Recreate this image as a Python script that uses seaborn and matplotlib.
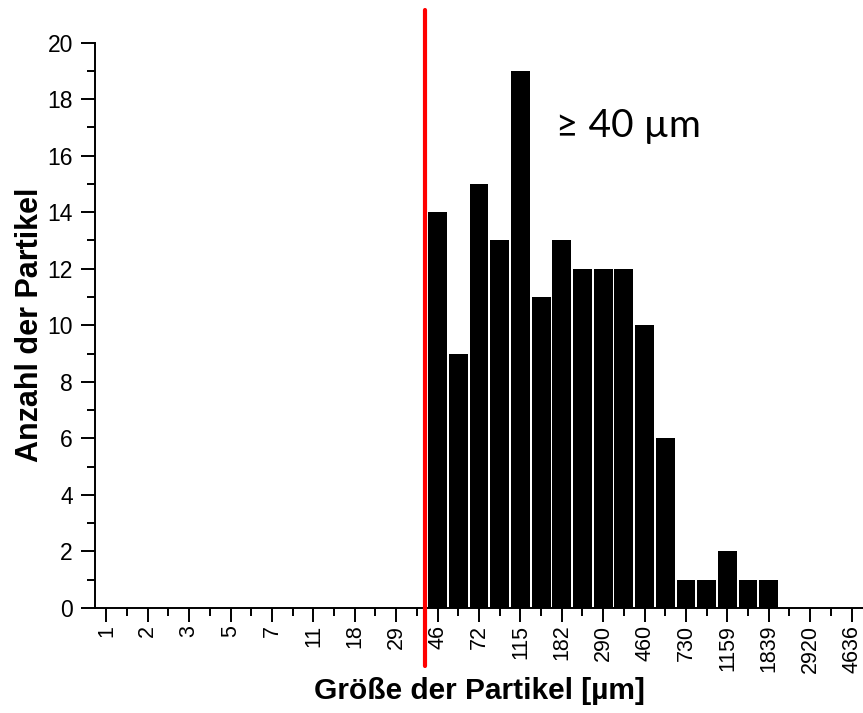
import numpy as np
import pandas as pd
import matplotlib
matplotlib.use("Agg")
import matplotlib.pyplot as plt
import seaborn as sns

# Particle size classes (labelled every second class) and counts per class
size_labels = ["1", "2", "3", "5", "7", "11", "18", "29", "46", "72", "115",
               "182", "290", "460", "730", "1159", "1839", "2920", "4636"]
counts = [0, 0, 0, 0, 0, 0, 0, 0, 0, 0, 0, 0, 0, 0, 0, 0,
          14, 9, 15, 13, 19, 11, 13, 12, 12, 12, 10, 6, 1, 1, 2, 1, 1,
          0, 0, 0, 0]
threshold_um = 40

sns.set_theme(style="ticks")
plt.rcParams["font.family"] = ["Liberation Sans", "DejaVu Sans"]

n_classes = len(counts)
df = pd.DataFrame({"klasse": np.arange(n_classes), "anzahl": counts})

fig = plt.figure(figsize=(8.63, 7.13), dpi=100)
ax = fig.add_axes([95 / 863, 1 - 608 / 713, 769 / 863, 565.5 / 713])

sns.barplot(data=df, x="klasse", y="anzahl", order=list(range(n_classes)),
            color="black", saturation=1, width=0.91, linewidth=0,
            native_scale=False, ax=ax)

ax.set_xlim(-0.55, n_classes - 1 + 0.6)
ax.set_ylim(0, 20)

major_pos = np.arange(0, n_classes, 2)
ax.set_xticks(major_pos)
ax.set_xticklabels(size_labels, rotation=90, fontsize=15.5)
ax.set_xticks(np.arange(1, n_classes, 2), minor=True)
ax.set_yticks(np.arange(0, 21, 2))
ax.set_yticklabels([str(v) for v in range(0, 21, 2)], fontsize=16.5)
ax.set_yticks(np.arange(1, 20, 2), minor=True)

ax.tick_params(axis="both", which="major", length=10, width=1.4, color="black",
               direction="out", labelcolor="black")
ax.tick_params(axis="y", which="major", pad=6)
ax.tick_params(axis="x", which="major", pad=2)
ax.tick_params(axis="both", which="minor", length=6, width=1.4, color="black",
               direction="out")
for side in ("top", "right"):
    ax.spines[side].set_visible(False)
for side in ("left", "bottom"):
    ax.spines[side].set_linewidth(1.4)
    ax.spines[side].set_color("black")

ax.set_xlabel("Größe der Partikel [µm]", fontsize=21.5, fontweight="bold",
              labelpad=3, color="black")
ax.set_ylabel("Anzahl der Partikel", fontsize=22, fontweight="bold",
              labelpad=2, color="black")

# Cut-off at 40 µm, placed on the logarithmic class axis
thr_pos = np.interp(np.log(threshold_um),
                    np.log([float(v) for v in size_labels]), major_pos)
ax.axvline(thr_pos, ymin=-0.103, ymax=1.058, color="#ff0000", linewidth=3,
           clip_on=False, zorder=5)
ax.text(21.7, 16.66, "≥ 40 µm", fontsize=28, color="black",
        family=["Lato", "DejaVu Sans"], ha="left", va="baseline")

fig.savefig("out.png", dpi=100)
